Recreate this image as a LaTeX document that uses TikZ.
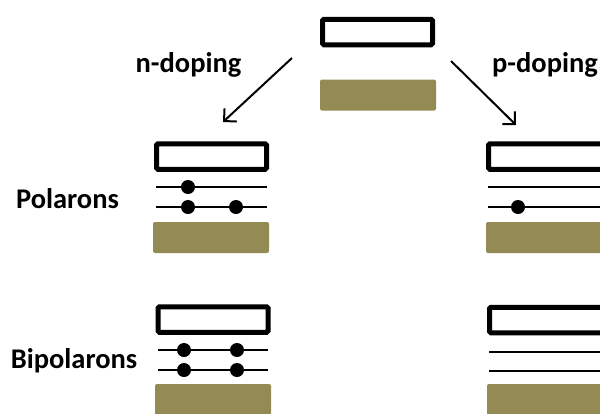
\documentclass[tikz,border=0pt]{standalone}
\usepackage{fontspec}
\setmainfont{Carlito}
\usetikzlibrary{arrows.meta}
\definecolor{bandolive}{HTML}{948A54}
\tikzset{
  x=1pt, y=-1pt,
  emptyband/.style={draw=black, line width=5pt, rounded corners=1.5pt, fill=white,
    minimum width=110pt, minimum height=25.5pt, inner sep=0pt},
  widebandcut/.style={emptyband, minimum width=124pt},
  fullband/.style={fill=bandolive, rounded corners=2pt,
    minimum width=116pt, minimum height=31pt, inner sep=0pt},
  level/.style={line width=1.8pt},
  carrier/.style={fill=black, circle, minimum size=14pt, inner sep=0pt},
  doparrow/.style={line width=2pt, -{Straight Barb[length=9pt, width=18pt, line width=2pt]}},
  lbl/.style={font=\fontsize{28.5}{31}\selectfont\bfseries, anchor=base, inner sep=0pt}
}
\begin{document}
\begin{tikzpicture}
\useasboundingbox (0,0) rectangle (600,413);
\clip (0,0) rectangle (600,413);

% undoped polymer
\node[emptyband] (cb0) at (377.5,32) {};
\node[fullband]  (vb0) at (378,95) {};

% doping arrows
\coordinate (nfrom) at (292,58);
\coordinate (nto)   at (223,122);
\coordinate (pfrom) at (451,61);
\coordinate (pto)   at (516,125);
\draw[doparrow] (nfrom) -- (nto);
\draw[doparrow] (pfrom) -- (pto);
\node[lbl] (nlab) at (188.5,72) {n-doping};
\node[lbl] (plab) at (545,72) {p-doping};

% polarons, n-type
\node[emptyband] (cbnp) at (211.5,156.5) {};
\node[fullband]  (vbnp) at (211,237.5) {};
\coordinate (np1a) at (156,187); \coordinate (np1b) at (267,187);
\coordinate (np2a) at (156,207); \coordinate (np2b) at (267,207);
\draw[level] (np1a) -- (np1b);
\draw[level] (np2a) -- (np2b);
\node[carrier] (npe1) at (188,187) {};
\node[carrier] (npe2) at (188,207) {};
\node[carrier] (npe3) at (236,207) {};

% polarons, p-type
\node[widebandcut] (cbpp) at (550.5,156.5) {};
\node[fullband]  (vbpp) at (544,237.5) {};
\coordinate (pp1a) at (488,187); \coordinate (pp1b) at (605,187);
\coordinate (pp2a) at (488,207); \coordinate (pp2b) at (605,207);
\draw[level] (pp1a) -- (pp1b);
\draw[level] (pp2a) -- (pp2b);
\node[carrier] (ppe1) at (518,207) {};

\node[lbl] (pol) at (67.5,208) {Polarons};

% bipolarons, n-type
\node[emptyband] (cbnb) at (213,319.5) {};
\node[fullband]  (vbnb) at (213,399.5) {};
\coordinate (nb1a) at (158,350); \coordinate (nb1b) at (268,350);
\coordinate (nb2a) at (158,370); \coordinate (nb2b) at (268,370);
\draw[level] (nb1a) -- (nb1b);
\draw[level] (nb2a) -- (nb2b);
\node[carrier] (nbe1) at (184,350) {};
\node[carrier] (nbe2) at (237,350) {};
\node[carrier] (nbe3) at (184,370) {};
\node[carrier] (nbe4) at (237,370) {};

% bipolarons, p-type
\node[widebandcut] (cbpb) at (551.5,320) {};
\node[fullband]  (vbpb) at (545,399.5) {};
\coordinate (pb1a) at (489,352); \coordinate (pb1b) at (605,352);
\coordinate (pb2a) at (489,371); \coordinate (pb2b) at (605,371);
\draw[level] (pb1a) -- (pb1b);
\draw[level] (pb2a) -- (pb2b);

\node[lbl] (bipol) at (74,368) {Bipolarons};
\end{tikzpicture}
\end{document}
